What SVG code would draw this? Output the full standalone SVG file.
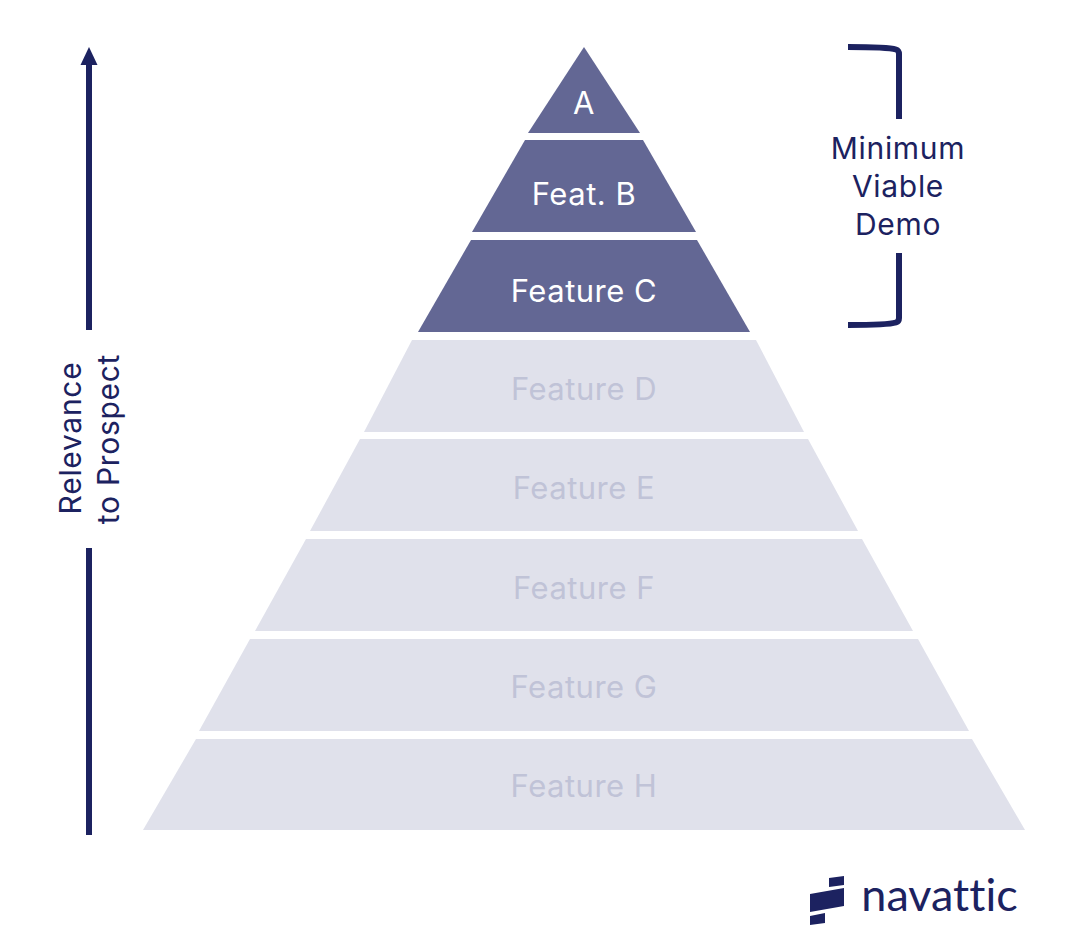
<svg xmlns="http://www.w3.org/2000/svg" width="1091" height="940" viewBox="0 0 1091 940">
<style>
.dark{fill:#636794}
.light{fill:#e0e1eb}
.ink{fill:#1c2260}
.line{fill:none;stroke:#1c2260;stroke-width:6}
text{font-family:Inter,"Liberation Sans",sans-serif;font-size:31px;letter-spacing:.5px;text-anchor:middle}
.w{fill:#fff}
.g{fill:#c0c3d7}
.n{fill:#1c2260;font-size:30px;letter-spacing:.7px}
.logo-text{font-family:Lato,sans-serif;font-size:45px;letter-spacing:0;fill:#1c2260;font-variant-ligatures:none}
</style>
<rect width="1091" height="940" fill="#fff"/>
<g id="connectors">
<path class="line" d="M89 330V62"/>
<path class="line" d="M89 835V548"/>
<polygon class="ink" points="89,47 97.500,65 80.500,65"/>
<path class="line" d="M848 47C870 47 888 47 896 49.500Q899 50.500 899 54V119"/>
<path class="line" d="M848 325C870 325 888 325 896 322.500Q899 321.500 899 318V253"/>
</g>
<g id="node-a"><polygon class="dark" points="584,47 640,133 528,133"/><text class="w" x="584" y="114">A</text></g>
<g id="node-b"><polygon class="dark" points="525,140 643,140 696,232 472,232"/><text class="w" x="584" y="204.500">Feat. B</text></g>
<g id="node-c"><polygon class="dark" points="471,240 697,240 750,332 418,332"/><text class="w" x="584" y="302">Feature C</text></g>
<g id="node-d"><polygon class="light" points="412,340 756,340 804,432 364,432"/><text class="g" x="584" y="400">Feature D</text></g>
<g id="node-e"><polygon class="light" points="360,439 808,439 858,531 310,531"/><text class="g" x="584" y="499">Feature E</text></g>
<g id="node-f"><polygon class="light" points="306,539 862,539 913,631 255,631"/><text class="g" x="584" y="599">Feature F</text></g>
<g id="node-g"><polygon class="light" points="250,639 918,639 969,731 199,731"/><text class="g" x="584" y="698">Feature G</text></g>
<g id="node-h"><polygon class="light" points="196,739 972,739 1025,830 143,830"/><text class="g" x="584" y="797">Feature H</text></g>
<g id="label-demo"><text class="n" x="898" y="159">Minimum</text><text class="n" x="898" y="197">Viable</text><text class="n" x="898" y="235">Demo</text></g>
<g id="label-relevance"><text class="n" transform="translate(81 438) rotate(-90)">Relevance</text><text class="n" transform="translate(119 439) rotate(-90)">to Prospect</text></g>
<g id="logo"><polygon class="ink" points="829,878 844,876 844,885 829,887"/><polygon class="ink" points="810,894 844,888 844,906 810,912"/><polygon class="ink" points="810,916 825,913 825,923 810,925"/><text class="logo-text" x="939.500" y="911">navattic</text></g>
</svg>
